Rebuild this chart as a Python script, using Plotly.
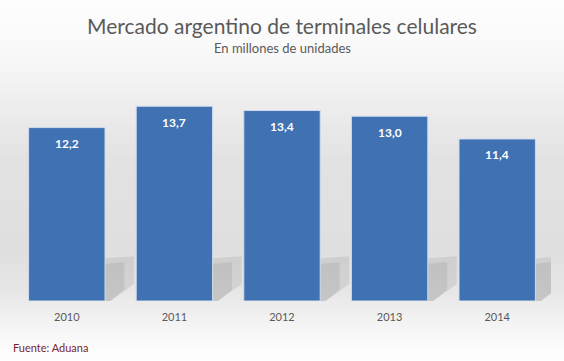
import plotly.graph_objects as go
import numpy as np

years = ["2010", "2011", "2012", "2013", "2014"]
values = [12.2, 13.7, 13.4, 13.0, 11.4]
labels = [f"{v:.1f}".replace(".", ",") for v in values]

title = "Mercado argentino de terminales celulares"
subtitle = "En millones de unidades"
source = "Fuente: Aduana"

W, H = 564, 361
t, b, l, r = 102, 60, 13, 13
ph = H - t - b
pw = W - l - r
FONT = "Lato, Open Sans, sans-serif"
BAR_W = 0.71

fig = go.Figure()
fig.add_trace(go.Bar(
    x=years, y=values,
    marker=dict(color="#4071b2", line=dict(color="#cfdcec", width=1)),
    width=BAR_W,
    hoverinfo="skip",
))

for i, (v, lab) in enumerate(zip(values, labels)):
    fig.add_annotation(x=i, y=v, text=f"<b>{lab}</b>", showarrow=False,
                       yshift=-16, font=dict(family=FONT, size=12, color="white"))

# background gradient (white -> light gray -> white), in figure pixels
stops_y = [0, 50, 110, 160, 250, 290, 330, 361]
stops_c = [253, 249, 236, 226, 223, 230, 246, 255]
shapes = []
step = 3
for py in range(0, H, step):
    g = int(round(np.interp(py + step / 2, stops_y, stops_c)))
    fy_top = H - py
    fy_bot = H - (py + step)
    shapes.append(dict(type="rect", xref="paper", yref="paper",
                       x0=-l / pw - 0.02, x1=1 + r / pw + 0.02,
                       y0=(fy_bot - b) / ph, y1=(fy_top - b) / ph,
                       line=dict(width=0), fillcolor=f"rgb({g},{g},{g})", layer="below"))

# soft drop shadows to the right of each bar (decorative, layered for softness)
for i in range(len(years)):
    xr = i + BAR_W / 2
    for (sw, sh, cut, a) in [(0.27, 3.0, 1.2, 0.18), (0.18, 2.6, 0.8, 0.18)]:
        shapes.append(dict(type="path", xref="x", yref="y", layer="below",
                           path=(f"M {xr},0 L {xr},{sh} L {xr + sw},{sh + 0.15} "
                                 f"L {xr + sw},{cut} L {xr + 0.05},0 Z"),
                           fillcolor=f"rgba(130,130,130,{a})", line=dict(width=0)))

fig.update_layout(
    width=W, height=H,
    margin=dict(l=l, r=r, t=t, b=b),
    paper_bgcolor="white",
    plot_bgcolor="rgba(0,0,0,0)",
    showlegend=False,
    shapes=shapes,
    xaxis=dict(type="category", range=[-0.5, len(years) - 0.5], showgrid=False, showline=False,
               zeroline=False, ticks="", ticklabelstandoff=8,
               tickfont=dict(family=FONT, size=11, color="#595959")),
    yaxis=dict(range=[0, 14], visible=False, showgrid=False, zeroline=False),
    font=dict(family=FONT),
)

fig.add_annotation(text=title, xref="paper", yref="paper", x=0.5, y=1 + (t - 25) / ph,
                   showarrow=False, yanchor="middle",
                   font=dict(family=FONT, size=21, color="#5a5a5a"))
fig.add_annotation(text=subtitle, xref="paper", yref="paper", x=0.5, y=1 + (t - 48) / ph,
                   showarrow=False, yanchor="middle",
                   font=dict(family=FONT, size=13, color="#595959"))
fig.add_annotation(text=source, xref="paper", yref="paper", x=-l / pw + 11 / pw, y=-(347 - (H - b)) / ph,
                   showarrow=False, xanchor="left", yanchor="middle",
                   font=dict(family=FONT, size=11, color="#7a1f2b"))

fig.write_html("out.html", config={"displayModeBar": False},
               post_script="document.body.style.margin='0';")
